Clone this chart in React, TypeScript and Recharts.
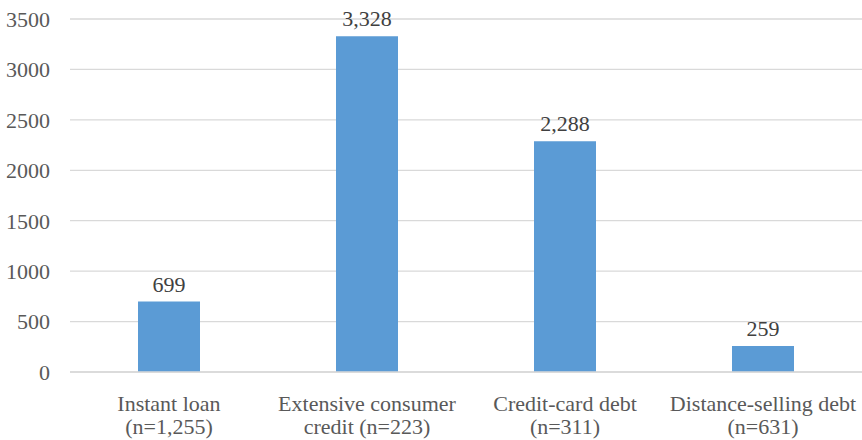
import { Bar, BarChart, CartesianGrid, LabelList, XAxis, YAxis } from "recharts";

const categories = ["Instant loan", "Extensive consumer credit", "Credit-card debt", "Distance-selling debt"];
const sampleSizes = ["(n=1,255)", "(n=223)", "(n=311)", "(n=631)"];
const labelLines = [
	["Instant loan", "(n=1,255)"],
	["Extensive consumer", "credit (n=223)"],
	["Credit-card debt", "(n=311)"],
	["Distance-selling debt", "(n=631)"],
];
const values = [699, 3328, 2288, 259];
const yTicks = [0, 500, 1000, 1500, 2000, 2500, 3000, 3500];

const FONT = "'Liberation Serif', 'DejaVu Serif', serif";
const TEXT = "#595959";

const data = categories.map((name, i) => ({ name, n: sampleSizes[i], value: values[i] }));

function CategoryTick(props: any) {
	const { x, y, index } = props;
	const lines = labelLines[index] ?? [props.payload.value];
	return (
		<text x={x} y={y} textAnchor="middle" fill={TEXT} fontFamily={FONT} fontSize={22}>
			{lines.map((line, i) => (
				<tspan key={i} x={x} y={y + 31 + i * 23}>
					{line}
				</tspan>
			))}
		</text>
	);
}

export default function App() {
	return (
		<div style={{ position: "absolute", left: 0, top: 0, width: 862, height: 440, background: "#fff" }}>
			<BarChart width={862} height={440} data={data} margin={{ top: 19, right: 0, bottom: 0, left: 0 }}>
				<CartesianGrid vertical={false} stroke="#d9d9d9" strokeWidth={1.3} />
				<XAxis
					dataKey="name"
					height={68}
					interval={0}
					tickLine={false}
					axisLine={{ stroke: "#d9d9d9", strokeWidth: 1.5 }}
					tick={<CategoryTick />}
				/>
				<YAxis
					width={70}
					domain={[0, 3500]}
					ticks={yTicks}
					tickLine={false}
					axisLine={false}
					tickSize={0}
					tickMargin={20}
					tick={{ fill: TEXT, fontSize: 22, fontFamily: FONT }}
				/>
				<Bar dataKey="value" fill="#5b9bd5" barSize={62} isAnimationActive={false}>
					<LabelList
						dataKey="value"
						position="top"
						offset={10}
						fill="#404040"
						fontSize={22}
						fontFamily={FONT}
						formatter={(v: any) => Number(v).toLocaleString("en-US")}
					/>
				</Bar>
			</BarChart>
		</div>
	);
}
